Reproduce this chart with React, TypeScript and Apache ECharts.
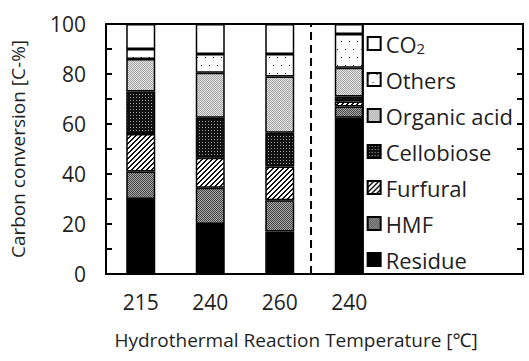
import React, { useEffect, useRef } from 'react';
import * as echarts from 'echarts';

// ---- data ----
const categories = ['215', '240', '260', '240', '', ''];
const residue = [30, 20, 17, 62.5];
const hmf = [11, 14.5, 12.5, 4.5];
const furfural = [15, 12, 13.5, 2];
const cellobiose = [17, 16, 13.5, 2];
const organicAcid = [13, 18, 22.5, 11.5];
const others = [4, 7.5, 9, 13.5];
const co2 = [10, 12, 12, 4];
const legendOrder = ['CO2', 'Others', 'Organic acid', 'Cellobiose', 'Furfural', 'HMF', 'Residue'];
const dividerAt = 2.95; // dashed separator, in category-band units
const yMin = 0;
const yMax = 100;

const FONT = '"Open Sans", "Noto Sans", sans-serif';
const TXT = '#1f1f1f';

function makePattern(w: number, h: number, bg: string, draw: (x: number, y: number) => string | null) {
  const c = document.createElement('canvas');
  c.width = w;
  c.height = h;
  const ctx = c.getContext('2d')!;
  ctx.fillStyle = bg;
  ctx.fillRect(0, 0, w, h);
  for (let y = 0; y < h; y++) {
    for (let x = 0; x < w; x++) {
      const col = draw(x, y);
      if (col) {
        ctx.fillStyle = col;
        ctx.fillRect(x, y, 1, 1);
      }
    }
  }
  return { image: c, repeat: 'repeat', imageWidth: w, imageHeight: h } as any;
}

export default function App() {
  const ref = useRef<HTMLDivElement>(null);
  useEffect(() => {
    document.body.style.margin = '0';
    if (!ref.current) return;
    const chart = echarts.init(ref.current, null, { renderer: 'svg' });

    const pOthers = makePattern(8, 16, '#ffffff', (x, y) =>
      (x === 1 && y === 1) || (x === 5 && y === 9) ? '#000000' : null
    );
    const pOrganic = makePattern(2, 2, '#e2e2e2', (x, y) => ((x + y) % 2 === 0 ? '#a6a6a6' : null));
    const pCello = makePattern(3, 3, '#111111', (x, y) => (x === 1 && y === 1 ? '#a0a0a0' : null));
    const pFurf = makePattern(5, 5, '#ffffff', (x, y) => ((x + y) % 5 < 2 ? '#111111' : null));
    const pHmf = makePattern(2, 2, '#a8a8a8', (x, y) => ((x + y) % 2 === 0 ? '#444444' : null));

    const border = { borderColor: '#000', borderWidth: 1.5 };
    const mk = (name: string, data: number[], color: any) => ({
      name,
      type: 'bar',
      stack: 'total',
      barWidth: 29,
      data,
      itemStyle: { color, ...border },
      emphasis: { disabled: true },
    });

    const tick = { show: true, inside: true, length: 6, lineStyle: { color: '#000', width: 2 } };

    chart.setOption({
      animation: false,
      backgroundColor: '#fff',
      grid: {
        left: 102,
        right: 6,
        top: 24,
        bottom: 87,
        show: true,
        borderColor: '#000',
        borderWidth: 2,
        backgroundColor: 'transparent',
      },
      legend: {
        data: legendOrder,
        orient: 'vertical',
        right: 6,
        top: 24,
        padding: [8, 10, 3, 4],
        itemGap: 13,
        itemWidth: 13,
        itemHeight: 13,
        icon: 'rect',
        borderColor: '#000',
        borderWidth: 2,
        backgroundColor: 'transparent',
        selectedMode: false,
        formatter: (name: string) => (name === 'CO2' ? 'CO{sub|2}' : name),
        textStyle: {
          fontFamily: FONT,
          fontSize: 22,
          lineHeight: 23,
          color: TXT,
          rich: {
            sub: { fontFamily: FONT, fontSize: 15, lineHeight: 23, color: TXT, verticalAlign: 'bottom', padding: [7, 0, 0, 0] },
          },
        },
      },
      xAxis: [
        {
          type: 'category',
          data: categories,
          axisLine: { show: false },
          axisTick: { show: false },
          axisLabel: { fontFamily: FONT, fontSize: 21, color: TXT, margin: 17, interval: 0 },
          name: 'Hydrothermal Reaction Temperature [\u2103]',
          nameLocation: 'middle',
          nameGap: 56,
          nameTextStyle: { fontFamily: FONT, fontSize: 19, color: TXT, padding: [0, 37, 0, 0] },
        },
        {
          type: 'value',
          min: 0,
          max: categories.length,
          show: false,
        },
      ],
      yAxis: [
        {
          type: 'value',
          min: yMin,
          max: yMax,
          interval: 10,
          z: 10,
          axisLine: { show: true, lineStyle: { color: '#000', width: 2 } },
          axisTick: tick,
          splitLine: { show: false },
          axisLabel: {
            fontFamily: FONT,
            fontSize: 21,
            color: TXT,
            margin: 20,
            formatter: (v: number) => (v % 20 === 0 ? String(v) : ''),
          },
          name: 'Carbon conversion [C-%]',
          nameLocation: 'middle',
          nameGap: 79,
          nameTextStyle: { fontFamily: FONT, fontSize: 19, color: TXT },
        },
        {
          type: 'value',
          position: 'right',
          min: yMin,
          max: yMax,
          interval: 10,
          z: 10,
          axisLine: { show: true, lineStyle: { color: '#000', width: 2 } },
          axisTick: tick,
          splitLine: { show: false },
          axisLabel: { show: false },
        },
      ],
      series: [
        mk('Residue', residue, '#000000'),
        mk('HMF', hmf, pHmf),
        mk('Furfural', furfural, pFurf),
        mk('Cellobiose', cellobiose, pCello),
        mk('Organic acid', organicAcid, pOrganic),
        mk('Others', others, pOthers),
        mk('CO2', co2, '#ffffff'),
        {
          name: 'divider',
          type: 'line',
          xAxisIndex: 1,
          yAxisIndex: 0,
          data: [
            [dividerAt, yMin],
            [dividerAt, yMax],
          ],
          symbol: 'none',
          lineStyle: { color: '#000', width: 2, type: [8, 5] },
          emphasis: { disabled: true },
          silent: true,
        },
      ],
    });
    return () => chart.dispose();
  }, []);
  return <div ref={ref} style={{ width: 529, height: 361 }} />;
}
